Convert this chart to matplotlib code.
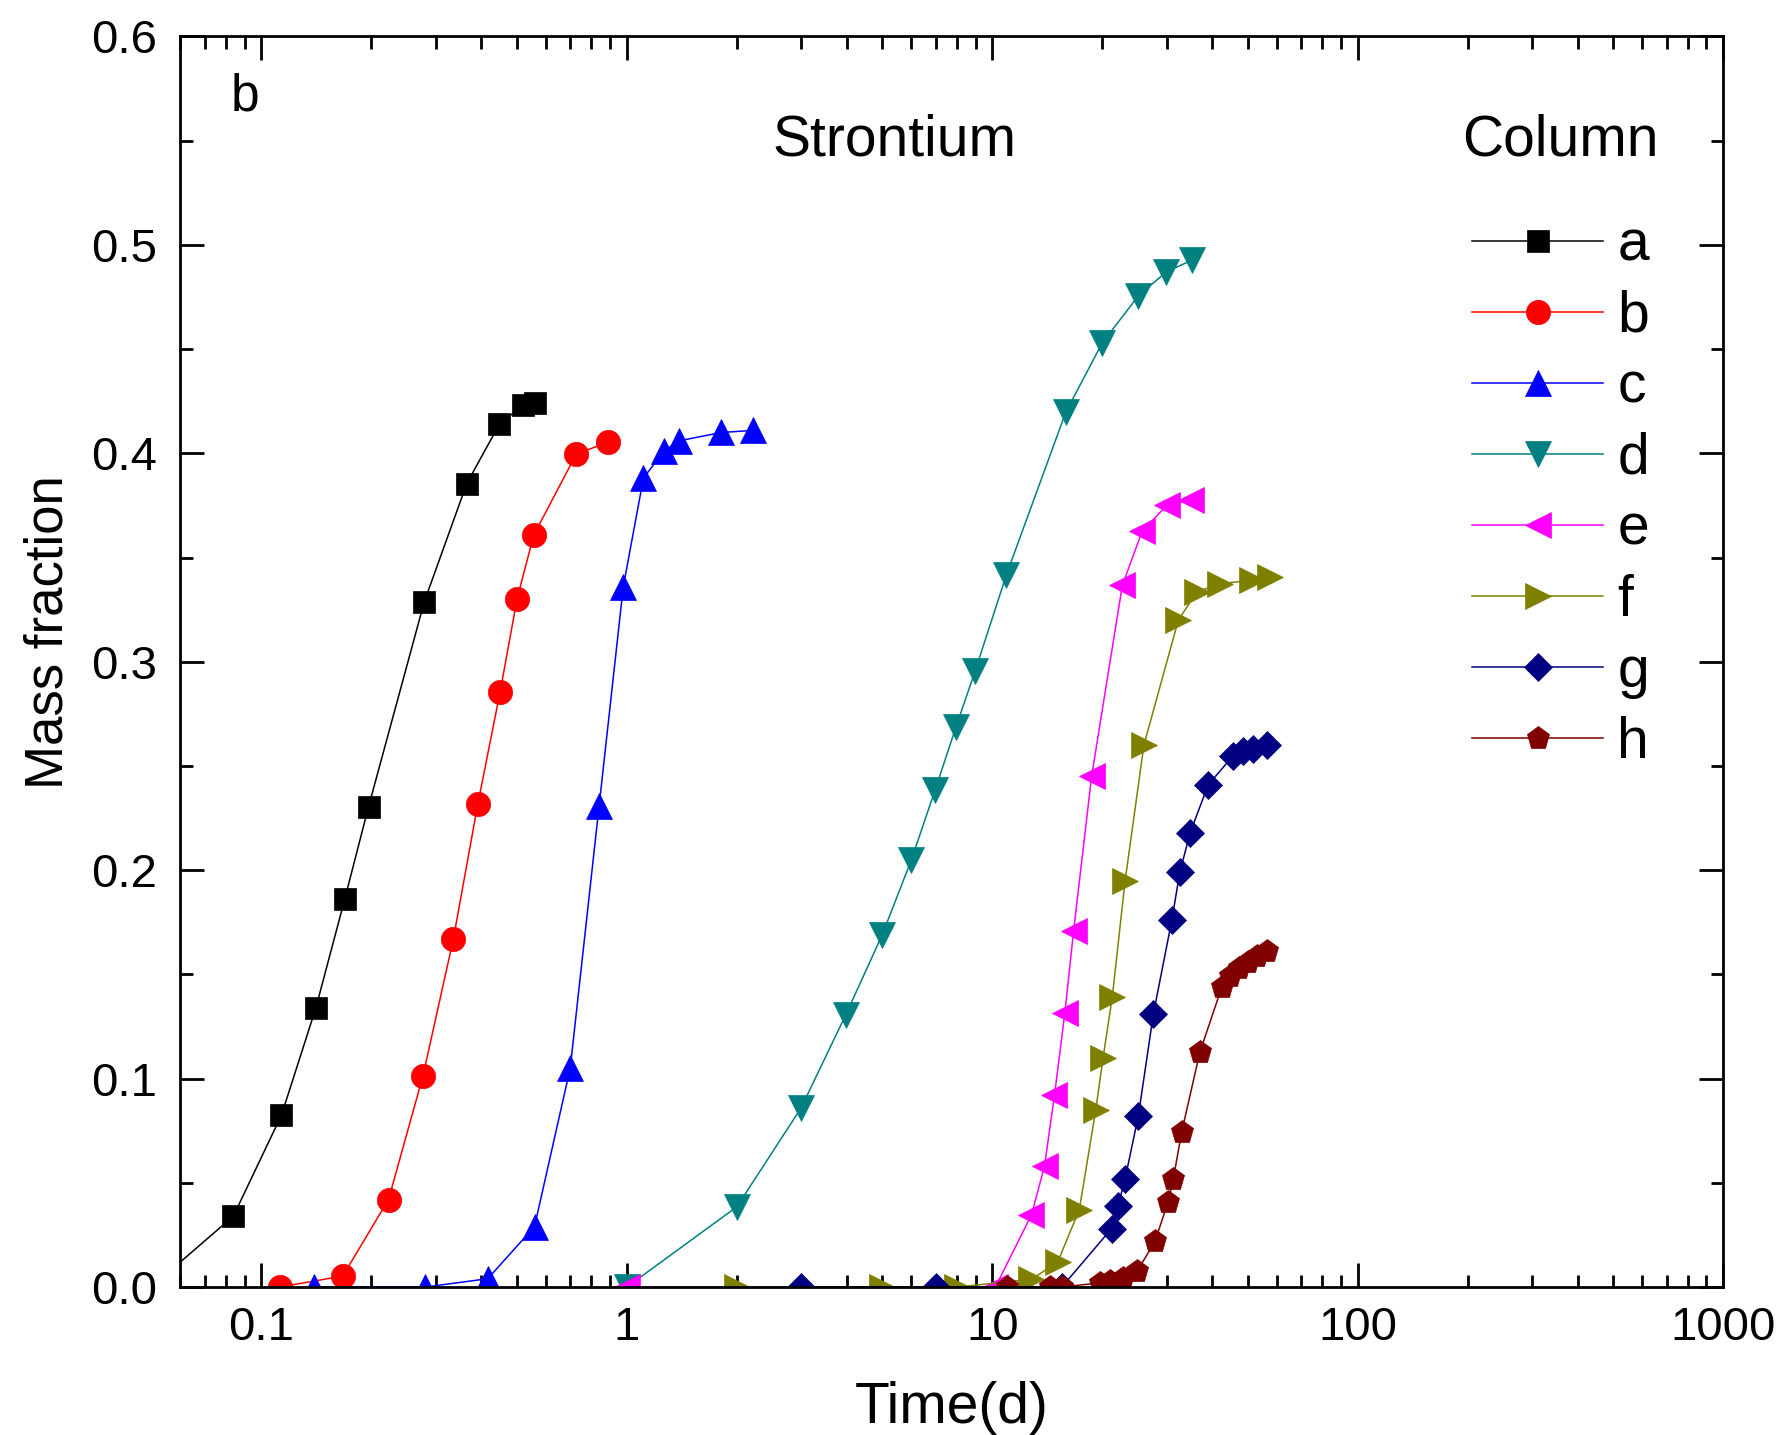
import matplotlib
matplotlib.use("Agg")
import matplotlib.pyplot as plt
from matplotlib.ticker import FixedLocator, FixedFormatter, MultipleLocator, LogLocator, NullFormatter

plt.rcParams['font.family'] = ['Liberation Sans', 'DejaVu Sans']

# ---- data (time in days, mass fraction) ----
a_x = [0.05, 0.0838, 0.1135, 0.141, 0.169, 0.1964, 0.279, 0.3648, 0.448, 0.52, 0.56]
a_y = [0.0, 0.034, 0.0825, 0.134, 0.186, 0.2304, 0.3287, 0.3855, 0.414, 0.423, 0.424]

b_x = [0.1125, 0.167, 0.2228, 0.2767, 0.335, 0.391, 0.450, 0.501, 0.556, 0.7265, 0.89]
b_y = [0.0, 0.0053, 0.042, 0.1012, 0.1668, 0.2317, 0.2855, 0.3303, 0.3607, 0.3995, 0.4055]

c_x = [0.139, 0.281, 0.4164, 0.559, 0.70, 0.84, 0.978, 1.11, 1.26, 1.39, 1.815, 2.22]
c_y = [0.0, 0.0, 0.004, 0.029, 0.105, 0.231, 0.336, 0.388, 0.401, 0.406, 0.410, 0.411]

d_x = [1.0, 2.0, 3.0, 3.97, 5.0, 6.0, 6.97, 7.95, 8.98, 10.93, 15.9, 20.0, 25.1, 29.9, 35.1]
d_y = [0.0, 0.0385, 0.086, 0.1305, 0.169, 0.2047, 0.2383, 0.2685, 0.2956, 0.3417, 0.4198, 0.453, 0.4755, 0.487, 0.4926]

e_x = [1.0, 10.2, 12.8, 13.9, 14.8, 15.8, 16.7, 18.7, 22.7, 25.7, 30.0, 35.0]
e_y = [0.0, 0.0, 0.0346, 0.058, 0.092, 0.1315, 0.171, 0.245, 0.3367, 0.3625, 0.375, 0.3775]

f_x = [2.0, 5.0, 8.0, 12.8, 15.1, 17.3, 19.2, 20.1, 21.3, 23.1, 26.0, 32.3, 36.3, 42.0, 51.3, 57.6]
f_y = [0.0, 0.0, 0.0, 0.0037, 0.012, 0.037, 0.085, 0.11, 0.139, 0.195, 0.26, 0.32, 0.3335, 0.3375, 0.339, 0.3407]

g_x = [3.0, 7.0, 15.5, 21.2, 22.1, 23.1, 25.1, 27.6, 31.0, 32.6, 34.8, 39.0, 45.7, 48.7, 51.8, 56.4]
g_y = [0.0, 0.0, 0.0, 0.028, 0.039, 0.052, 0.082, 0.131, 0.176, 0.199, 0.218, 0.241, 0.255, 0.257, 0.258, 0.26]

h_x = [11.0, 14.4, 15.5, 19.7, 21.0, 22.8, 24.9, 27.9, 30.3, 31.3, 33.0, 37.0, 42.5, 44.8, 47.2, 50.2, 52.9, 56.4]
h_y = [0.0, 0.0, 0.0, 0.002, 0.003, 0.0045, 0.0075, 0.022, 0.041, 0.052, 0.0745, 0.1127, 0.144, 0.149, 0.153, 0.156, 0.159, 0.161]

labels = ['a', 'b', 'c', 'd', 'e', 'f', 'g', 'h']
colors = ['#000000', '#FF0000', '#0000FF', '#008080', '#FF00FF', '#808000', '#000080', '#800000']
markers = ['s', 'o', '^', 'v', '<', '>', 'D', 'p']
msizes = [16.5, 17.5, 18.5, 18.5, 18.5, 18.5, 14, 17]

xticks = [0.1, 1, 10, 100, 1000]
xticklabels = ['0.1', '1', '10', '100', '1000']
yticks = [0.0, 0.1, 0.2, 0.3, 0.4, 0.5, 0.6]
yticklabels = ['0.0', '0.1', '0.2', '0.3', '0.4', '0.5', '0.6']

series = [(a_x, a_y), (b_x, b_y), (c_x, c_y), (d_x, d_y),
          (e_x, e_y), (f_x, f_y), (g_x, g_y), (h_x, h_y)]

fig = plt.figure(figsize=(17.81, 14.35), dpi=100)
ax = fig.add_axes([0.1008, 0.1031, 0.8667, 0.8715])

handles = []
for (xs, ys), lab, col, mk, ms in zip(series, labels, colors, markers, msizes):
    h, = ax.plot(xs, ys, color=col, lw=1.1, marker=mk, markersize=ms,
                 markerfacecolor=col, markeredgecolor=col, markeredgewidth=0.5,
                 label=lab, clip_on=True)
    handles.append(h)

ax.set_xscale('log')
ax.set_xlim(0.0597, 1000)
ax.set_ylim(0, 0.6)

ax.xaxis.set_major_locator(FixedLocator(xticks))
ax.xaxis.set_major_formatter(FixedFormatter(xticklabels))
ax.xaxis.set_minor_locator(LogLocator(base=10, subs=range(2, 10)))
ax.xaxis.set_minor_formatter(NullFormatter())
ax.yaxis.set_major_locator(FixedLocator(yticks))
ax.yaxis.set_major_formatter(FixedFormatter(yticklabels))
ax.yaxis.set_minor_locator(MultipleLocator(0.05))

ax.tick_params(which='both', direction='in', top=True, right=True, width=2)
ax.tick_params(which='major', length=17, labelsize=34)
ax.tick_params(which='minor', length=9)
ax.tick_params(axis='x', which='major', pad=14)
ax.tick_params(axis='y', which='major', pad=16)
for sp in ax.spines.values():
    sp.set_linewidth(2)

ax.set_xlabel('Time(d)', fontsize=41, labelpad=22)
ax.set_ylabel('Mass fraction', fontsize=38, labelpad=13)
ax.yaxis.label.set_y(0.524)

ax.text(0.033, 0.941, 'b', transform=ax.transAxes, fontsize=37, ha='left', va='baseline')
ax.text(0.4634, 0.905, 'Strontium', transform=ax.transAxes, fontsize=41, ha='center', va='baseline')

leg = ax.legend(handles=handles, labels=labels, title='Column', loc='upper left',
                bbox_to_anchor=(0.831, 0.9386), frameon=False, fontsize=41,
                title_fontsize=41, handlelength=2.3, handletextpad=0.25,
                labelspacing=0.30, borderpad=0, borderaxespad=0)
leg._legend_box.sep = 37

fig.savefig('out.png', dpi=100)
